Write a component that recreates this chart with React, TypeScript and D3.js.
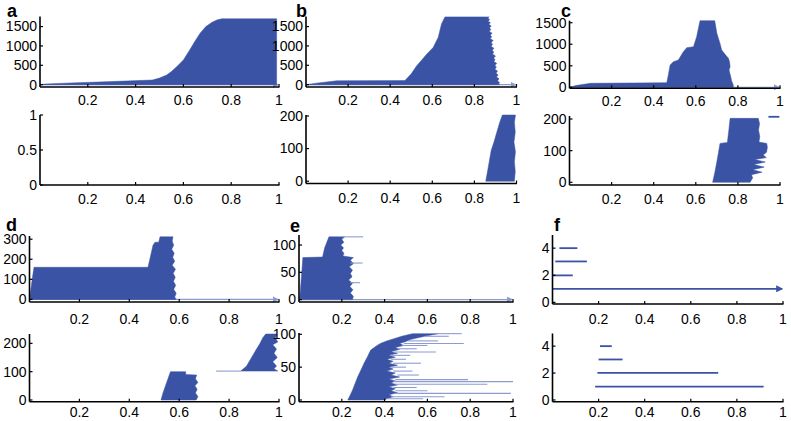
import React from 'react';
import * as d3 from 'd3';

const BLUE = '#3a53a4';
const LIGHT = '#8d9cd0';

const xTicks = [0.2, 0.4, 0.6, 0.8, 1];

// barcode outlines: [position on x, bar index]
const aTopBirth = [[0,0],[0.02,15],[0.13,45],[0.3,80],[0.47,120],[0.5,170],[0.53,250],[0.55,340],[0.575,480],[0.6,640],[0.625,880],[0.647,1110],[0.67,1330],[0.694,1500],[0.72,1610],[0.74,1670],[0.76,1700]];
const aTopDeath = [[0.99,1700],[0.99,0]];

const bTopBirth = [[0,0],[0.05,40],[0.146,100],[0.47,105],[0.5,280],[0.525,480],[0.55,640],[0.573,785],[0.604,960],[0.628,1220],[0.644,1570],[0.66,1750]];
const bTopDeath = [[0.87,1750],[0.862,1720],[0.872,1690],[0.866,1640],[0.876,1600],[0.869,1560],[0.88,1510],[0.872,1470],[0.878,1420],[0.87,1380],[0.884,1330],[0.876,1280],[0.882,1230],[0.875,1190],[0.889,1140],[0.88,1090],[0.886,1040],[0.879,990],[0.893,940],[0.885,890],[0.892,840],[0.886,790],[0.9,740],[0.892,690],[0.898,640],[0.892,600],[0.906,550],[0.898,500],[0.904,450],[0.897,400],[0.91,350],[0.903,300],[0.912,250],[0.905,200],[0.917,150],[0.91,100],[0.92,50],[0.915,20],[0.92,0]];
const bBotBirth = [[0.854,0],[0.865,40],[0.88,95],[0.893,120],[0.905,147],[0.92,180],[0.933,203]];
const bBotDeath = [[0.995,203],[0.99,180],[0.994,150],[0.988,120],[0.995,90],[0.99,60],[0.994,30],[0.99,0]];

const cTopBirth = [[0,0],[0.03,40],[0.1,93],[0.3,100],[0.462,108],[0.47,300],[0.478,518],[0.494,595],[0.517,634],[0.541,827],[0.557,920],[0.589,943],[0.604,1175],[0.612,1360],[0.62,1547]];
const cTopDeath = [[0.69,1547],[0.695,1400],[0.7,1253],[0.708,1130],[0.715,1020],[0.723,866],[0.74,760],[0.755,673],[0.76,600],[0.763,480],[0.758,400],[0.766,247],[0.77,150],[0.778,54],[0.778,0]];
const cBotBirth = [[0.68,0],[0.69,30],[0.7,65],[0.708,95],[0.715,123],[0.75,126],[0.757,165],[0.763,202]];
const cBotDeath = [[0.897,202],[0.903,185],[0.898,165],[0.904,145],[0.9,127],[0.937,123],[0.94,110],[0.936,95],[0.92,86],[0.935,78],[0.88,72],[0.93,64],[0.875,56],[0.925,48],[0.87,40],[0.915,32],[0.865,24],[0.87,14],[0.858,0]];
const cBotBars = [[207,0.945,0.997]];

const dTopBirth = [[0,0],[0.005,45],[0.012,110],[0.018,160],[0.3,160],[0.475,160],[0.485,215],[0.495,270],[0.503,285],[0.518,285],[0.523,312]];
const dTopDeath = [[0.575,312],[0.572,290],[0.578,270],[0.57,250],[0.58,230],[0.574,210],[0.582,190],[0.572,170],[0.585,150],[0.576,130],[0.584,110],[0.577,90],[0.586,70],[0.578,50],[0.588,30],[0.582,12],[0.588,0]];
const dBotBirthA = [[0.527,0],[0.535,25],[0.545,50],[0.555,75],[0.565,100]];
const dBotDeathA = [[0.626,100],[0.626,90],[0.67,88],[0.665,75],[0.675,62],[0.663,50],[0.672,38],[0.665,25],[0.675,12],[0.668,0]];
const dBotBirthB = [[0.847,102],[0.87,120],[0.89,150],[0.91,180],[0.924,200],[0.935,220],[0.947,233]];
const dBotDeathB = [[0.992,233],[0.985,220],[0.995,205],[0.975,195],[0.99,180],[0.98,165],[0.993,150],[0.975,135],[0.99,120],[0.98,110],[0.995,102]];
const dBotLight = [[102,0.748,0.847]];

const eTopBirth = [[0.003,0],[0.008,25],[0.013,50],[0.018,77],[0.11,78],[0.12,95],[0.13,105],[0.14,115]];
const eTopDeath = [[0.213,115],[0.2,110],[0.21,105],[0.195,100],[0.208,95],[0.2,90],[0.21,85],[0.205,80],[0.254,77],[0.24,72],[0.255,66],[0.235,60],[0.25,54],[0.24,48],[0.248,42],[0.232,36],[0.25,30],[0.238,24],[0.252,18],[0.24,12],[0.254,6],[0.25,0]];
const eTopLight = [[115,0.2,0.3],[67,0.24,0.297],[31,0.24,0.285]];

const eBotBirth = [[0.228,0],[0.24,8],[0.25,15],[0.262,25],[0.274,35],[0.29,46],[0.304,56],[0.32,66],[0.335,76],[0.36,82],[0.38,86],[0.41,90],[0.44,93],[0.48,97],[0.53,101]];
const eBotDeath = [[0.65,101],[0.6,98],[0.56,95],[0.52,92],[0.5,89],[0.47,86],[0.49,83],[0.45,80],[0.47,77],[0.43,74],[0.46,71],[0.42,68],[0.45,65],[0.41,62],[0.44,59],[0.42,56],[0.46,53],[0.42,50],[0.44,47],[0.41,44],[0.45,41],[0.43,38],[0.47,35],[0.42,32],[0.45,29],[0.43,26],[0.46,23],[0.42,20],[0.45,17],[0.43,14],[0.46,11],[0.42,8],[0.44,5],[0.41,2],[0.4,0]];
const eBotLight = [[101,0.64,0.76],[97,0.59,0.7],[90,0.51,0.65],[86,0.49,0.77],[83,0.48,0.6],[78,0.46,0.55],[73,0.44,0.64],[68,0.43,0.52],[62,0.43,0.5],[56,0.44,0.57],[50,0.43,0.5],[44,0.44,0.53],[38,0.46,0.56],[31,0.45,0.79],[28,0.44,1.0],[24,0.45,0.88],[19,0.44,0.55],[14,0.45,0.6],[10,0.45,0.99],[5,0.43,0.68],[2,0.41,0.58]];

const fTopBars = [[4,0.03,0.108],[3.02,0.012,0.149],[1.99,0,0.088]];
const fBotBars = [[4,0.206,0.257],[3.01,0.2,0.304],[2.02,0.195,0.719],[0.99,0.185,0.916]];

// infinite bars: [bar index, birth]
const infA = [[0,0]];
const infB = [[0,0]];
const infC = [[0,0]];
const infD = [[0,0]];
const infE = [[0,0]];
const infF = [[1,0]];

const yTicksABtop = [0,500,1000,1500];
const yTicksAbot = [0,0.5,1];
const yTicks200 = [0,100,200];
const yTicks300 = [0,100,200,300];
const yTicks100 = [0,50,100];
const yTicksF = [0,2,4];

const FONT = '"Liberation Sans", Arial, Helvetica, sans-serif';
const fmt = d3.format('');

type Layout = { x0: number; x1: number; yB: number; yT: number; dom: [number, number]; lab: number };

function Subplot({ L, yTicks, masses = [], dark = [], light = [], infs = [], infDark = false }: any) {
  const xs = d3.scaleLinear().domain([0, 1]).range([L.x0, L.x1]);
  const ys = d3.scaleLinear().domain(L.dom).range([L.yB, L.yT]);
  const line = d3.line();
  return (
    <g>
      {infs.map((b: number[], k: number) => (
        <line key={'i' + k} x1={xs(b[1])} x2={xs(1) - 1} y1={ys(b[0])} y2={ys(b[0])}
          stroke={infDark ? BLUE : LIGHT} strokeWidth={infDark ? 1.8 : 1.3}
          markerEnd={infDark ? 'url(#arrD)' : 'url(#arrL)'} />
      ))}
      {masses.map((m: any, k: number) => {
        const pts = [...m.birth, ...m.death].map((p: number[]) => [xs(p[0]), ys(p[1])] as [number, number]);
        return <path key={'m' + k} d={line(pts) + 'Z'} fill={BLUE} stroke={BLUE} strokeWidth={0.5} />;
      })}
      {light.map((b: number[], k: number) => (
        <line key={'l' + k} x1={xs(b[1])} x2={xs(b[2])} y1={ys(b[0])} y2={ys(b[0])} stroke={LIGHT} strokeWidth={1.1} />
      ))}
      {dark.map((b: number[], k: number) => (
        <line key={'d' + k} x1={xs(b[1])} x2={xs(b[2])} y1={ys(b[0])} y2={ys(b[0])} stroke={BLUE} strokeWidth={1.8} />
      ))}
      <line x1={L.x0} x2={L.x1 + 0.5} y1={L.yB} y2={L.yB} stroke="#000" strokeWidth={1.6} />
      <line x1={L.x0} x2={L.x0} y1={L.yB} y2={L.yT} stroke="#000" strokeWidth={1.6} />
      {xTicks.map((t) => (
        <g key={'x' + t}>
          <line x1={xs(t)} x2={xs(t)} y1={L.yB} y2={L.yB - 3} stroke="#000" strokeWidth={1.2} />
          <text x={xs(t)} y={L.yB + L.lab} dy="0.35em" textAnchor="middle" fontFamily={FONT} fontSize={14} fill="#000">{fmt(t)}</text>
        </g>
      ))}
      {yTicks.map((t: number) => (
        <g key={'y' + t}>
          <line x1={L.x0} x2={L.x0 + 3} y1={ys(t)} y2={ys(t)} stroke="#000" strokeWidth={1.2} />
          <text x={L.x0 - 3} y={ys(t)} dy="0.35em" textAnchor="end" fontFamily={FONT} fontSize={14} fill="#000">{fmt(t)}</text>
        </g>
      ))}
    </g>
  );
}

const L_aTop: Layout = { x0: 40, x1: 279, yB: 87, yT: 16.5, dom: [-60, 1760], lab: 13 };
const L_bTop: Layout = { x0: 306, x1: 516.5, yB: 87, yT: 16.5, dom: [-60, 1760], lab: 13 };
const L_cTop: Layout = { x0: 569.5, x1: 780, yB: 88.3, yT: 20.7, dom: [-23, 1547], lab: 13 };
const L_aBot: Layout = { x0: 40, x1: 279, yB: 185, yT: 115, dom: [0, 1], lab: 14.5 };
const L_bBot: Layout = { x0: 306, x1: 516.5, yB: 183.5, yT: 115, dom: [-7, 203], lab: 15 };
const L_cBot: Layout = { x0: 569.5, x1: 780, yB: 185, yT: 116, dom: [-8.5, 209.5], lab: 14.5 };
const L_dTop: Layout = { x0: 29.5, x1: 279, yB: 302, yT: 236, dom: [-13, 316], lab: 17 };
const L_eTop: Layout = { x0: 299, x1: 513, yB: 302, yT: 235, dom: [-4.4, 118.4], lab: 17 };
const L_fTop: Layout = { x0: 552.5, x1: 783, yB: 304, yT: 235, dom: [-0.12, 4.97], lab: 15 };
const L_dBot: Layout = { x0: 29.5, x1: 279, yB: 401.7, yT: 334, dom: [-6, 233], lab: 10.5 };
const L_eBot: Layout = { x0: 299, x1: 513, yB: 401.7, yT: 333, dom: [-2.6, 102], lab: 10.5 };
const L_fBot: Layout = { x0: 552.5, x1: 783, yB: 401.7, yT: 333.5, dom: [-0.13, 4.94], lab: 10.5 };

function Letter({ x, y, t }: any) {
  return <text x={x} y={y} fontFamily={FONT} fontWeight="bold" fontSize={18} fill="#000">{t}</text>;
}

export default function App() {
  return (
    <svg width={791} height={421} style={{ position: 'absolute', left: 0, top: 0, background: '#fff' }}>
      <defs>
        <marker id="arrL" viewBox="0 0 6 6" refX={5} refY={3} markerWidth={6} markerHeight={6} markerUnits="userSpaceOnUse" orient="auto">
          <path d="M0,0 L6,3 L0,6 Z" fill={LIGHT} />
        </marker>
        <marker id="arrD" viewBox="0 0 6 6" refX={5} refY={3} markerWidth={7} markerHeight={7} markerUnits="userSpaceOnUse" orient="auto">
          <path d="M0,0 L6,3 L0,6 Z" fill={BLUE} />
        </marker>
      </defs>
      <rect x={0} y={0} width={791} height={421} fill="#fff" />
      <Subplot L={L_aTop} yTicks={yTicksABtop} masses={[{ birth: aTopBirth, death: aTopDeath }]} infs={infA} />
      <Subplot L={L_aBot} yTicks={yTicksAbot} />
      <Subplot L={L_bTop} yTicks={yTicksABtop} masses={[{ birth: bTopBirth, death: bTopDeath }]} infs={infB} />
      <Subplot L={L_bBot} yTicks={yTicks200} masses={[{ birth: bBotBirth, death: bBotDeath }]} />
      <Subplot L={L_cTop} yTicks={yTicksABtop} masses={[{ birth: cTopBirth, death: cTopDeath }]} infs={infC} />
      <Subplot L={L_cBot} yTicks={yTicks200} masses={[{ birth: cBotBirth, death: cBotDeath }]} dark={cBotBars} />
      <Subplot L={L_dTop} yTicks={yTicks300} masses={[{ birth: dTopBirth, death: dTopDeath }]} infs={infD} />
      <Subplot L={L_dBot} yTicks={yTicks200} masses={[{ birth: dBotBirthA, death: dBotDeathA }, { birth: dBotBirthB, death: dBotDeathB }]} light={dBotLight} />
      <Subplot L={L_eTop} yTicks={yTicks100} masses={[{ birth: eTopBirth, death: eTopDeath }]} light={eTopLight} infs={infE} />
      <Subplot L={L_eBot} yTicks={yTicks100} masses={[{ birth: eBotBirth, death: eBotDeath }]} light={eBotLight} />
      <Subplot L={L_fTop} yTicks={yTicksF} dark={fTopBars} infs={infF} infDark={true} />
      <Subplot L={L_fBot} yTicks={yTicksF} dark={fBotBars} />
      <Letter x={7} y={17} t="a" />
      <Letter x={296} y={17} t="b" />
      <Letter x={561} y={17} t="c" />
      <Letter x={6} y={231} t="d" />
      <Letter x={290} y={232} t="e" />
      <Letter x={554} y={231} t="f" />
    </svg>
  );
}
